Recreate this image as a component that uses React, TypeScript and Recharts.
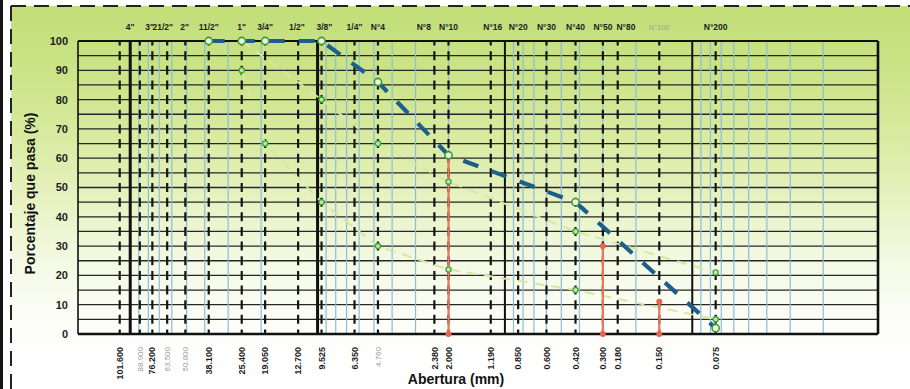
import React from 'react';
import { ComposedChart, Line, XAxis, YAxis, CartesianGrid, ReferenceLine } from 'recharts';

// Sieve openings: printed label, place on the log grid where the template draws them
const sieveLabels = ['101.600', '88.900', '76.200', '63.500', '50.800', '38.100', '25.400', '19.050', '12.700', '9.525', '6.350', '4.760', '2.380', '2.000', '1.190', '0.850', '0.600', '0.420', '0.300', '0.180', '0.150', '0.075'];
const sievePositions = [113.8, 88.9, 76.2, 63.5, 50.8, 38.1, 25.4, 19.05, 12.7, 9.525, 6.35, 4.76, 2.38, 2.0, 1.19, 0.85, 0.6, 0.42, 0.3, 0.25, 0.15, 0.075];
const faintBottom = ['88.900', '63.500', '50.800', '4.760'];

// Sieve names printed along the top, and where the template prints them
const sieveNames = ['4"', '3"', '21/2"', '2"', '11/2"', '1"', '3/4"', '1/2"', '3/8"', '1/4"', 'N°4', 'N°8', 'N°10', 'N°16', 'N°20', 'N°30', 'N°40', 'N°50', 'N°80', 'N°100', 'N°200'];
const namePositions = [100, 78.7, 67.0, 51.2, 38.1, 25.4, 19.05, 12.9, 9.2, 6.35, 4.76, 2.71, 2.0, 1.16, 0.85, 0.6, 0.42, 0.3, 0.226, 0.15, 0.075];
const faintTop = ['N°100'];

// Log-paper grid
const decadeLines = [100, 10, 1, 0.1];
const minorLines = [90, 80, 70, 60, 50, 40, 30, 20, 9, 8, 7, 6, 5, 4, 3, 2, 0.9, 0.8, 0.7, 0.6, 0.5, 0.4, 0.3, 0.2, 0.09, 0.08, 0.07, 0.06, 0.05, 0.04, 0.03, 0.02];
const xDomain = [0.0102, 190];
const yTicks = [0, 5, 10, 15, 20, 25, 30, 35, 40, 45, 50, 55, 60, 65, 70, 75, 80, 85, 90, 95, 100];

// Gradation curve (% passing)
const curveSizes = [38.1, 25.4, 19.05, 9.525, 4.76, 2.0, 0.42, 0.075];
const curvePass = [100, 100, 100, 100, 86, 61, 45, 2];

// Specification band
const upperSizes = [25.4, 9.525, 4.76, 2.0, 0.42, 0.075];
const upperPass = [100, 80, 65, 52, 35, 21];
const lowerSizes = [25.4, 19.05, 9.525, 4.76, 2.0, 0.42, 0.075];
const lowerPass = [90, 65, 45, 30, 22, 15, 5];

// Red markers
const redSizes = [2.0, 0.3, 0.15];
const redTops = [61, 30, 11];

const curveData = curveSizes.map((s, i) => ({ size: s, pct: curvePass[i] }));
const upperData = upperSizes.map((s, i) => ({ size: s, pct: upperPass[i] }));
const lowerData = lowerSizes.map((s, i) => ({ size: s, pct: lowerPass[i] }));
const redData = redSizes.map((s, i) => [{ size: s, pct: 0 }, { size: s, pct: redTops[i] }]);

const FONT = '"Liberation Sans", Arial, sans-serif';

const BottomTick = (props: any) => {
  const { x, y, payload } = props;
  const i = sievePositions.indexOf(payload.value);
  const label = sieveLabels[i] ?? '';
  const faint = faintBottom.includes(label);
  return (
    <text x={x} y={y} transform={`rotate(-90 ${x} ${y})`} textAnchor="end" dy="0.35em"
      fontFamily={FONT} fontSize={faint ? 8 : 9} fontWeight={faint ? 400 : 700} fill={faint ? '#9c9c9c' : '#1e1e1e'}>
      {label}
    </text>
  );
};

const TopTick = (props: any) => {
  const { x, y, payload } = props;
  const i = namePositions.indexOf(payload.value);
  const label = sieveNames[i] ?? '';
  const faint = faintTop.includes(label);
  return (
    <text x={x} y={y} textAnchor="middle" fontFamily={FONT} fontSize={faint ? 7.5 : 8.5}
      fontWeight={faint ? 400 : 700} fill={faint ? '#9aa68a' : '#1e1e1e'}>
      {label}
    </text>
  );
};

const LeftTick = (props: any) => {
  const { x, y, payload } = props;
  if (payload.value % 10 !== 0) return <g />;
  return (
    <text x={x} y={y} textAnchor="end" dy="0.36em" fontFamily={FONT} fontSize={11} fontWeight={700} fill="#1e1e1e">
      {payload.value}
    </text>
  );
};

const ring = (props: any) => {
  const { cx, cy, index } = props;
  return <circle key={`r${index}`} cx={cx} cy={cy} r={3.6} fill="#eef6d8" stroke="#3d9b3a" strokeWidth={1.6} />;
};
const smallDot = (props: any) => {
  const { cx, cy, index } = props;
  return <circle key={`s${index}`} cx={cx} cy={cy} r={2.6} fill="#bfe6a8" stroke="#3fa53a" strokeWidth={1.3} />;
};
const redDot = (props: any) => {
  const { cx, cy, index } = props;
  return <circle key={`d${index}`} cx={cx} cy={cy} r={3} fill="#e8624f" stroke="none" />;
};

export default function App() {
  return (
    <div style={{ position: 'absolute', left: 0, top: 0, width: 910, height: 389, background: '#ffffff', overflow: 'hidden' }}>
      <div style={{
        position: 'absolute', left: 11, top: 6, width: 899, height: 383,
        background: 'linear-gradient(to bottom, #c1de78 0%, #cbe488 18%, #d9eba2 35%, #e8f3c4 52%, #f3f9e2 66%, #fbfdf4 80%, #ffffff 92%)'
      }} />
      <svg width={910} height={389} style={{ position: 'absolute', left: 0, top: 0 }}>
        <rect x={0} y={0} width={3} height={389} fill="#151515" />
        <line x1={11} y1={6} x2={910} y2={6} stroke="#222" strokeWidth={2} strokeDasharray="15 8" />
        <line x1={11} y1={6} x2={11} y2={389} stroke="#222" strokeWidth={2} strokeDasharray="15 8" />
      </svg>
      <div style={{ position: 'absolute', left: 0, top: 0 }}>
        <ComposedChart width={910} height={389} margin={{ top: 0, right: 32, bottom: 0, left: 0 }}>
          <XAxis xAxisId="b" dataKey="size" type="number" scale="log" domain={xDomain} reversed allowDataOverflow
            ticks={sievePositions} interval={0} height={55} tickSize={0} tickMargin={13}
            axisLine={false} tickLine={false} tick={<BottomTick />}
            label={{ value: 'Abertura (mm)', position: 'insideBottom', offset: 5, dx: -22, fontFamily: FONT, fontSize: 14, fontWeight: 700, fill: '#111' }} />
          <XAxis xAxisId="t" orientation="top" dataKey="size" type="number" scale="log" domain={xDomain} reversed allowDataOverflow
            ticks={namePositions} interval={0} height={41} tickSize={0} tickMargin={11}
            axisLine={false} tickLine={false} tick={<TopTick />} />
          <YAxis type="number" domain={[0, 100]} ticks={yTicks} interval={0} width={78} tickSize={0} tickMargin={10}
            axisLine={false} tickLine={false} tick={<LeftTick />}
            label={{ value: 'Porcentaje que pasa (%)', angle: -90, position: 'insideLeft', offset: 30, dy: 6, style: { textAnchor: 'middle' }, fontFamily: FONT, fontSize: 14, fontWeight: 700, fill: '#111' }} />

          {minorLines.map((v) => (
            <ReferenceLine key={`m${v}`} xAxisId="b" x={v} stroke="#8bbcd9" strokeWidth={1.2} />
          ))}
          <CartesianGrid xAxisId="b" vertical={false} stroke="#262626" strokeWidth={1.3} />
          {decadeLines.map((v, i) => (
            <ReferenceLine key={`d${v}`} xAxisId="b" x={v} stroke="#111" strokeWidth={i < 2 ? 3 : 2} />
          ))}
          {sievePositions.map((v) => (
            <ReferenceLine key={`s${v}`} xAxisId="b" x={v} stroke="#151515" strokeWidth={2.2} strokeDasharray="9 5.65" strokeDashoffset={4.5} />
          ))}
          <ReferenceLine xAxisId="b" y={100} stroke="#111" strokeWidth={2} />
          <ReferenceLine xAxisId="b" y={0} stroke="#111" strokeWidth={2.6} />
          <ReferenceLine xAxisId="b" x={xDomain[1]} stroke="#111" strokeWidth={1.6} />
          <ReferenceLine xAxisId="b" x={xDomain[0]} stroke="#111" strokeWidth={2.6} />

          <Line xAxisId="b" data={upperData} dataKey="pct" stroke="#d6e8a2" strokeWidth={2} strokeDasharray="10 7" dot={smallDot} isAnimationActive={false} />
          <Line xAxisId="b" data={lowerData} dataKey="pct" stroke="#d6e8a2" strokeWidth={2} strokeDasharray="10 7" dot={smallDot} isAnimationActive={false} />
          {redData.map((d, i) => (
            <Line key={`red${i}`} xAxisId="b" data={d} dataKey="pct" stroke="#e8735e" strokeWidth={2.2} dot={redDot} isAnimationActive={false} />
          ))}
          <Line xAxisId="b" data={curveData} dataKey="pct" stroke="#1c5f8c" strokeWidth={4.2} strokeDasharray="16 14" dot={ring} isAnimationActive={false} />
        </ComposedChart>
      </div>
    </div>
  );
}
